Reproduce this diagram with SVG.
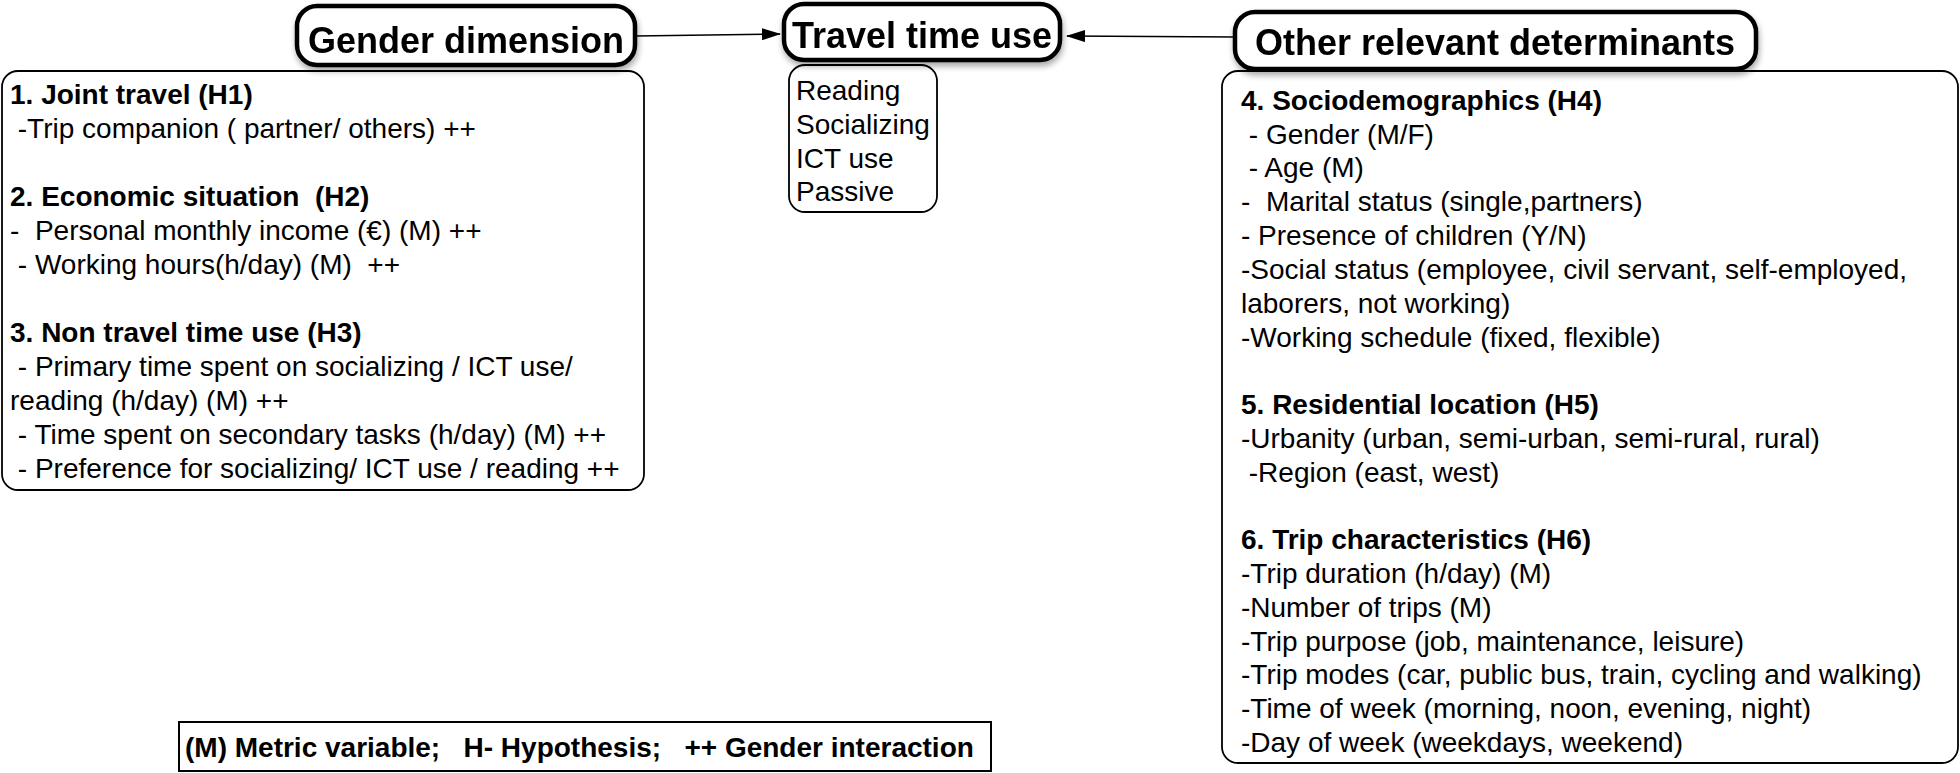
<svg xmlns="http://www.w3.org/2000/svg" width="1960" height="773" viewBox="0 0 1960 773">
<style>
  text { font-family: "Liberation Sans", Arial, sans-serif; fill: #000; white-space: pre; }
  .t { font-size: 28px; }
  .b { font-size: 28px; font-weight: bold; }
  .h { font-size: 36px; font-weight: bold; }
  .title { fill: #fff; stroke: #000; stroke-width: 4.5; }
  .box { fill: #fff; stroke: #000; stroke-width: 1.8; }
  .conn { fill: none; stroke: #000; stroke-width: 1.6; }
</style>
<defs>
  <filter id="sh" x="-10%" y="-20%" width="120%" height="150%">
    <feGaussianBlur in="SourceAlpha" stdDeviation="3"/>
    <feOffset dx="1" dy="4" result="o"/>
    <feComponentTransfer><feFuncA type="linear" slope="0.35"/></feComponentTransfer>
    <feMerge><feMergeNode/><feMergeNode in="SourceGraphic"/></feMerge>
  </filter>
  <marker id="arr" markerWidth="19" markerHeight="12" refX="18" refY="6" orient="auto" markerUnits="userSpaceOnUse">
    <path d="M0,0 L19,6 L0,12 Z" fill="#000"/>
  </marker>
</defs>
<rect width="1960" height="773" fill="#fff"/>

<g id="gender-box">
  <rect class="box" x="2" y="71" width="642" height="419" rx="16"/>
  <text class="b" x="10" y="104">1. Joint travel (H1)</text>
  <text class="t" x="10" y="138"> -Trip companion ( partner/ others) ++</text>
  <text class="b" x="10" y="206">2. Economic situation  (H2)</text>
  <text class="t" x="10" y="240">-  Personal monthly income (€) (M) ++</text>
  <text class="t" x="10" y="274"> - Working hours(h/day) (M)  ++</text>
  <text class="b" x="10" y="342">3. Non travel time use (H3)</text>
  <text class="t" x="10" y="376"> - Primary time spent on socializing / ICT use/</text>
  <text class="t" x="10" y="410">reading (h/day) (M) ++</text>
  <text class="t" x="10" y="444"> - Time spent on secondary tasks (h/day) (M) ++</text>
  <text class="t" x="10" y="478"> - Preference for socializing/ ICT use / reading ++</text>
</g>

<g id="other-box">
  <rect class="box" x="1222" y="71" width="736" height="692" rx="16"/>
  <text class="b" x="1241" y="110">4. Sociodemographics (H4)</text>
  <text class="t" x="1241" y="144"> - Gender (M/F)</text>
  <text class="t" x="1241" y="177"> - Age (M)</text>
  <text class="t" x="1241" y="211">-  Marital status (single,partners)</text>
  <text class="t" x="1241" y="245">- Presence of children (Y/N)</text>
  <text class="t" x="1241" y="279">-Social status (employee, civil servant, self-employed,</text>
  <text class="t" x="1241" y="313">laborers, not working)</text>
  <text class="t" x="1241" y="347">-Working schedule (fixed, flexible)</text>
  <text class="b" x="1241" y="414">5. Residential location (H5)</text>
  <text class="t" x="1241" y="448">-Urbanity (urban, semi-urban, semi-rural, rural)</text>
  <text class="t" x="1241" y="482"> -Region (east, west)</text>
  <text class="b" x="1241" y="549">6. Trip characteristics (H6)</text>
  <text class="t" x="1241" y="583">-Trip duration (h/day) (M)</text>
  <text class="t" x="1241" y="617">-Number of trips (M)</text>
  <text class="t" x="1241" y="651">-Trip purpose (job, maintenance, leisure)</text>
  <text class="t" x="1241" y="684">-Trip modes (car, public bus, train, cycling and walking)</text>
  <text class="t" x="1241" y="718">-Time of week (morning, noon, evening, night)</text>
  <text class="t" x="1241" y="752">-Day of week (weekdays, weekend)</text>
</g>

<g id="activities">
  <rect class="box" x="789" y="65" width="148" height="147" rx="16"/>
  <text class="t" x="796" y="100">Reading</text>
  <text class="t" x="796" y="134">Socializing</text>
  <text class="t" x="796" y="168">ICT use</text>
  <text class="t" x="796" y="201">Passive</text>
</g>

<g id="connectors">
  <line class="conn" x1="635" y1="36" x2="780" y2="34" marker-end="url(#arr)"/>
  <line class="conn" x1="1235" y1="37" x2="1067" y2="36" marker-end="url(#arr)"/>
</g>

<g id="gender-title" filter="url(#sh)">
  <rect class="title" x="297" y="6" width="338" height="59" rx="20"/>
  <text class="h" x="466" y="53" text-anchor="middle">Gender dimension</text>
</g>

<g id="travel-title" filter="url(#sh)">
  <rect class="title" x="784" y="4" width="276" height="56" rx="20"/>
  <text class="h" x="922" y="48" text-anchor="middle">Travel time use</text>
</g>

<g id="other-title" filter="url(#sh)">
  <rect class="title" x="1235" y="12" width="521" height="57" rx="20"/>
  <text class="h" x="1495" y="55" text-anchor="middle">Other relevant determinants</text>
</g>

<g id="legend">
  <rect x="179" y="722" width="812" height="49" fill="#fff" stroke="#000" stroke-width="2"/>
  <text class="b" x="185" y="757">(M) Metric variable;   H- Hypothesis;   ++ Gender interaction</text>
</g>
</svg>
